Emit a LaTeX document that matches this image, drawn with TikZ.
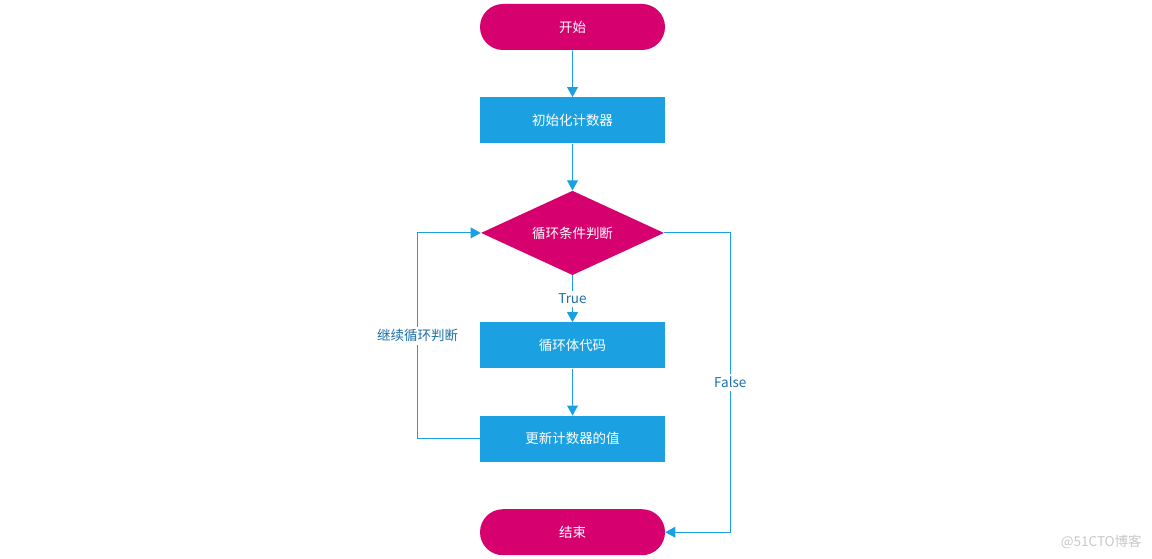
\documentclass[tikz,border=0pt]{standalone}
\usepackage{fontspec}
\setmainfont{Noto Sans CJK SC}
\usepackage{tikz}
\usetikzlibrary{positioning}
\usetikzlibrary{calc}
\usetikzlibrary{arrows.meta}
\usetikzlibrary{shapes}
\usetikzlibrary{shapes.geometric}
\definecolor{flowmagenta}{RGB}{214,0,111}
\definecolor{flowblue}{RGB}{27,161,226}
\definecolor{labelblue}{RGB}{28,112,168}
\definecolor{markgray}{RGB}{200,200,200}

\begin{document}
\begin{tikzpicture}[
        node distance=1.17cm,
        terminal/.style={rounded rectangle, fill=flowmagenta, text=white,
                    minimum width=4.625cm, minimum height=1.15cm,
                    inner sep=0pt, font=\fontsize{9.6}{11}\selectfont},
        box/.style={rectangle, fill=flowblue, text=white,
                    minimum width=4.625cm, minimum height=1.15cm,
                    inner sep=0pt, font=\fontsize{9.6}{11}\selectfont},
        decision/.style={diamond, aspect=2.15, fill=flowmagenta, text=white,
                    minimum width=4.575cm, minimum height=2.11cm,
                    inner sep=0pt, font=\fontsize{9.6}{11}\selectfont},
        lbl/.style={fill=white, text=labelblue, inner sep=2pt,
                    font=\fontsize{9.6}{11}\selectfont},
        arrow/.style={-{Triangle[width=0.27cm,length=0.25cm]}, line width=0.7pt, draw=flowblue}
    ]
        \useasboundingbox (0,0) rectangle (28.8,-13.975);
        \node[terminal] (start) at (14.3125,-0.675) {开始};
        \node[box, below=of start] (init) {初始化计数器};
        \node[decision, below=of init] (cond) {循环条件判断};
        \node[box, below=of cond] (body) {循环体代码};
        \node[box, below=of body] (update) {更新计数器的值};
        \node[terminal, below=of update] (stop) {结束};
        \node[anchor=east, text=markgray, inner sep=0pt,
              font=\fontsize{9.6}{11}\selectfont] (mark) at (28.55,-13.55) {@51CTO博客};

        \draw[arrow] (start) -- (init);
        \draw[arrow] (init) -- (cond);
        \draw[arrow] (cond) -- node[lbl] {True} (body);
        \draw[arrow] (body) -- (update);
        \draw[arrow] (update.west) -- ++(-1.55,0) |- node[lbl, pos=0.25] {继续循环判断} (cond.west);
        \draw[arrow] (cond.east) -- ++(1.65,0) |- node[lbl, pos=0.25] {False} (stop.east);
    \end{tikzpicture}
\end{document}
